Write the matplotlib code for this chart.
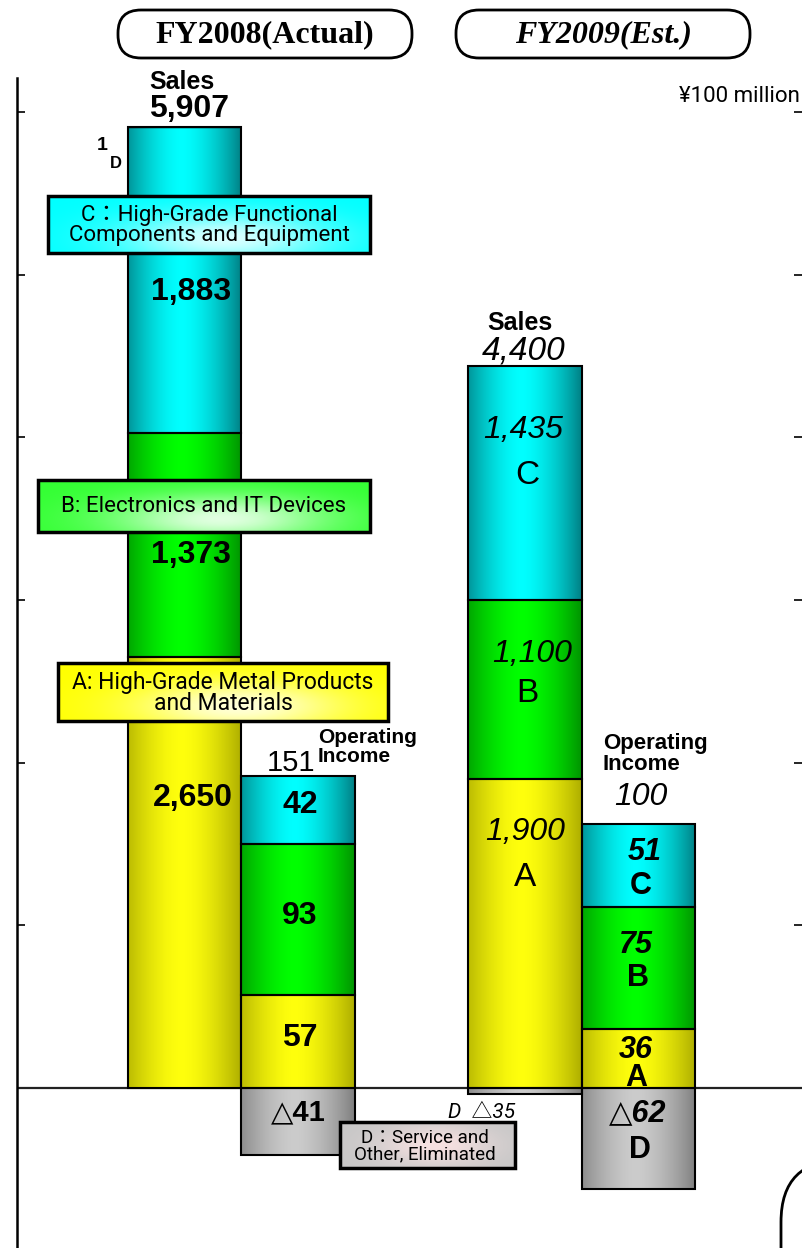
import numpy as np
import matplotlib
matplotlib.use("Agg")
import matplotlib.pyplot as plt
from matplotlib.patches import FancyBboxPatch, Rectangle

# ==========================================================
# Data (¥100 million)
# ==========================================================

segments = ["A", "B", "C"]
sales_2008 = [2650, 1373, 1883]
sales_2008_d = 1
oi_2008 = [57, 93, 42]
oi_2008_d = -41

sales_2009 = [1900, 1100, 1435]
sales_2009_d = -35
oi_2009 = [36, 75, 51]
oi_2009_d = -62

sales_totals = [5907, 4400]
oi_totals = [151, 100]

# operating income is drawn 10x on the same axis
OI_SCALE = 10

# bar positions: sales08, oi08, sales09, oi09
bar_pos = [0, 1, 3, 4]

seg_colors = {
    "A": ((0.68, 0.68, 0.0), (1.0, 1.0, 0.05)),
    "B": ((0.0, 0.58, 0.0), (0.0, 1.0, 0.0)),
    "C": ((0.0, 0.50, 0.52), (0.0, 1.0, 1.0)),
    "D": ((0.50, 0.50, 0.50), (0.80, 0.80, 0.80)),
}

W, H = 802, 1248
fig = plt.figure(figsize=(W / 100, H / 100), dpi=100)

# main axes: y in ¥100 million, x in bar slots
PX_PER_UNIT = 0.16269
ZERO_PX = 1088
ax = fig.add_axes([17 / W, 0, (W - 17) / W, (H - 78) / H])
ax.set_ylim(-(H - ZERO_PX) / PX_PER_UNIT, (ZERO_PX - 78) / PX_PER_UNIT)
ax.set_xlim((17 - 184.5) / 113.5, (802 - 184.5) / 113.5)
ax.set_yticks(np.arange(1000, 7000, 1000))
ax.set_xticks([])
ax.tick_params(axis="y", direction="in", left=True, right=True,
               labelleft=False, length=6, width=1.2)
for s in ["top", "bottom", "right"]:
    ax.spines[s].set_visible(False)
ax.spines["left"].set_linewidth(1.8)
ax.axhline(0, color="#222222", lw=1.6, zorder=1)


def gradient_fill(patch, key):
    edge, center = seg_colors[key]
    t = np.linspace(0, 1, 200)
    f = np.clip(1 - np.abs((t - 0.47) / 0.53) ** 1.6, 0, 1)
    edge = np.array(edge)
    center = np.array(center)
    img = edge[None, :] + (center - edge)[None, :] * f[:, None]
    img = img[None, :, :]
    x0, y0 = patch.get_x(), patch.get_y()
    w, h = patch.get_width(), patch.get_height()
    ax.imshow(img, extent=(x0, x0 + w, y0, y0 + h), aspect="auto",
              zorder=2, interpolation="bilinear")
    patch.set_facecolor("none")
    patch.set_zorder(3)


def stacked(pos, values, d_value, scale=1):
    bottom = 0
    for key, v in zip(segments, values):
        bar = ax.bar(pos, v * scale, bottom=bottom, width=1.0,
                     edgecolor="black", linewidth=1.5)[0]
        gradient_fill(bar, key)
        bottom += v * scale
    if d_value > 0:
        bar = ax.bar(pos, d_value * scale, bottom=bottom, width=1.0,
                     edgecolor="black", linewidth=1.0)[0]
    else:
        bar = ax.bar(pos, d_value * scale, bottom=0, width=1.0,
                     edgecolor="black", linewidth=1.5)[0]
    gradient_fill(bar, "D")


stacked(bar_pos[0], sales_2008, sales_2008_d)
stacked(bar_pos[1], oi_2008, oi_2008_d, OI_SCALE)
stacked(bar_pos[2], sales_2009, sales_2009_d)
stacked(bar_pos[3], oi_2009, oi_2009_d, OI_SCALE)

# ==========================================================
# Overlay in pixel coordinates for boxes and labels
# ==========================================================

ov = fig.add_axes([0, 0, 1, 1], zorder=5)
ov.set_xlim(0, W)
ov.set_ylim(H, 0)
ov.axis("off")
ov.patch.set_alpha(0)

NARROW = ["Roboto", "Noto Sans CJK JP", "DejaVu Sans"]
SANS = ["Liberation Sans", "DejaVu Sans"]
SERIF = ["Liberation Serif", "DejaVu Serif"]


def pill(x0, y0, x1, y1, r):
    p = FancyBboxPatch((x0, y0), x1 - x0, y1 - y0,
                       boxstyle=f"round,pad=0,rounding_size={r}",
                       facecolor="white", edgecolor="black", lw=2)
    ov.add_patch(p)


pill(118, 10, 412, 58, 23)
pill(456, 10, 750, 58, 23)
pill(781, 1160, 940, 1330, 62)
ov.text(265, 35, "FY2008(Actual)", family=SERIF, weight="bold",
        fontsize=23, ha="center", va="center")
ov.text(603, 35, "FY2009(Est.)", family=SERIF, weight="bold",
        style="italic", fontsize=23, ha="center", va="center")
ov.text(800, 96, "¥100 million", family=NARROW, fontsize=16,
        ha="right", va="center")


def glow_box(x0, y0, x1, y1, base, text, fs, ha="center", tx=None,
             glow=(0.55, 0.75), tint=(1, 1, 1)):
    nx, ny = 200, 60
    gx, gy = np.meshgrid(np.linspace(0, 1, nx), np.linspace(0, 1, ny))
    f = np.exp(-((gx - glow[0]) / 0.32) ** 2 - ((gy - glow[1]) / 0.45) ** 2)
    base = np.array(base)
    img = base[None, None, :] + (np.array(tint) - base)[None, None, :] * 0.85 * f[:, :, None]
    ov.imshow(img, extent=(x0, x1, y1, y0), aspect="auto", zorder=1,
              interpolation="bilinear")
    ov.add_patch(Rectangle((x0, y0), x1 - x0, y1 - y0, facecolor="none",
                           edgecolor="black", lw=2.5, zorder=2))
    if tx is None:
        tx = (x0 + x1) / 2
    ov.text(tx, (y0 + y1) / 2 + 1, text, family=NARROW, fontsize=fs,
            ha=ha, va="center", linespacing=0.92, zorder=3, multialignment="center")


glow_box(48, 196, 370, 253, (0.0, 1.0, 1.0),
         "C：High-Grade Functional\nComponents and Equipment", 16)
glow_box(38, 480, 370, 532, (0.2, 1.0, 0.2),
         "B: Electronics and IT Devices", 16)
glow_box(58, 663, 388, 721, (1.0, 1.0, 0.0),
         "A: High-Grade Metal Products\nand Materials", 16.5)
glow_box(340, 1122, 515, 1168, (0.78, 0.78, 0.78),
         "D：Service and\nOther, Eliminated", 13.5, ha="left", tx=354,
         glow=(0.55, 0.5), tint=(1.0, 0.9, 0.9))
ov.set_xlim(0, W)
ov.set_ylim(H, 0)


def label(x, y, s, fs=22, weight="bold", style="normal", family=SANS,
          ha="center", va="center"):
    ov.text(x, y, s, family=family, fontsize=fs, weight=weight, style=style,
            ha=ha, va=va, zorder=4, linespacing=1.0)


# FY2008
label(182, 89, "Sales", fs=18, va="baseline")
label(189, 117, f"{sales_totals[0]:,}", fs=23, va="baseline")
label(102, 145, f"{sales_2008_d}", fs=14)
label(116, 164, "D", fs=12)
label(191, 292, f"{sales_2008[2]:,}", fs=23)
label(191, 555, f"{sales_2008[1]:,}", fs=23)
label(193, 798, f"{sales_2008[0]:,}", fs=23)
label(267, 763, f"{oi_totals[0]}", fs=21, weight="normal", ha="left")
label(318, 747, "Operating\nIncome", fs=15, ha="left")
label(300, 805, f"{oi_2008[2]}", fs=23)
label(300, 916, f"{oi_2008[1]}", fs=23)
label(300, 1038, f"{oi_2008[0]}", fs=23)
label(298, 1112, f"△{-oi_2008_d}", fs=21)

# FY2009
label(520, 330, "Sales", fs=18, va="baseline")
label(524, 359, f"{sales_totals[1]:,}", fs=24, weight="normal", style="italic",
      va="baseline")
label(523, 430, f"{sales_2009[2]:,}", fs=23, weight="normal", style="italic")
label(527, 476, "C", fs=24, weight="normal")
label(532, 654, f"{sales_2009[1]:,}", fs=23, weight="normal", style="italic")
label(527, 694, "B", fs=24, weight="normal")
label(525, 832, f"{sales_2009[0]:,}", fs=23, weight="normal", style="italic")
label(525, 878, "A", fs=24, weight="normal")
label(603, 754, "Operating\nIncome", fs=16, ha="left")
label(641, 797, f"{oi_totals[1]}", fs=23, weight="normal", style="italic")
label(645, 852, f"{oi_2009[2]}", fs=22, style="italic")
label(641, 886, "C", fs=22)
label(636, 945, f"{oi_2009[1]}", fs=22, style="italic")
label(638, 978, "B", fs=22)
label(636, 1050, f"{oi_2009[0]}", fs=22, style="italic")
label(636, 1078, "A", fs=22)
label(638, 1113, f"△{-oi_2009_d}", fs=22, style="italic")
label(640, 1150, "D", fs=22)
label(482, 1112, f"D  △{-sales_2009_d}", fs=15, weight="normal",
      style="italic", family=NARROW)

fig.savefig("out.png", dpi=100)
